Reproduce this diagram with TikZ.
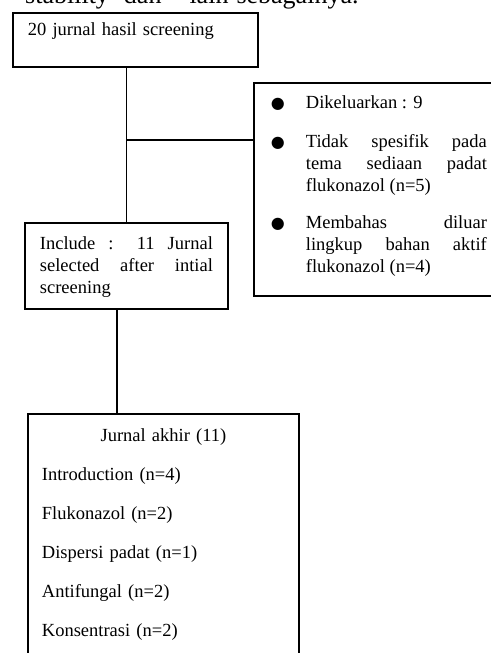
\documentclass[tikz,border=0pt]{standalone}
\usepackage{fontspec}
\setmainfont{Liberation Serif}
\newfontfamily\symfont{DejaVu Sans}
\usepackage{tikz}
\usetikzlibrary{calc}
\tikzset{
  frame/.style={draw=black, line width=1.8pt, inner ysep=0pt, anchor=north west,
    font=\fontsize{18.5}{22}\selectfont},
  link/.style={draw=black, line width=1.8pt, line cap=rect},
  prevtext/.style={anchor=base west, inner sep=0pt, font=\fontsize{26}{26}\selectfont},
}
\newcommand{\dotitem}[1]{\noindent\hangindent=35pt\hangafter=1%
  \makebox[35pt][l]{{\symfont\fontsize{16}{16}\selectfont ●}}#1\par}

\begin{document}
\begin{tikzpicture}[x=1pt, y=-1pt]
  \useasboundingbox (0,0) rectangle (490,653);
  \fill[white] (0,0) rectangle (490,653);

  \node[prevtext] (prev) at (25,4) {stability\hspace{15pt}dan\hspace{28pt}lain\hspace{8pt}sebagainya.};

  \node[frame, inner xsep=15pt, text width=215pt, align=left,
    text height=23pt, text depth=31pt] (screen) at (12,12) {20 jurnal hasil screening};

  \node[frame, inner xsep=17pt, text width=216pt, align=justify,
    text height=26pt, text depth=187pt] (excl) at (253,82)
    {\dotitem{Dikeluarkan : 9}\vspace{17pt}
     \dotitem{Tidak spesifik pada\linebreak tema sediaan padat\linebreak flukonazol (n=5)}\vspace{15pt}
     \dotitem{Membahas diluar\linebreak lingkup bahan aktif\linebreak flukonazol (n=4)}};

  \node[frame, inner xsep=15pt, text width=173pt, align=justify,
    text height=27pt, text depth=59pt] (incl) at (24,222)
    {Include : 11 Jurnal\linebreak selected after intial\linebreak screening};

  \node[frame, inner xsep=14pt, text width=243pt, align=left,
    font=\fontsize{18.5}{39}\selectfont,
    text height=28pt, text depth=260pt] (final) at (27,413)
    {\makebox[243pt][c]{Jurnal akhir (11)}\\
     Introduction (n=4)\\
     Flukonazol (n=2)\\
     Dispersi padat (n=1)\\
     Antifungal (n=2)\\
     Konsentrasi (n=2)};

  \coordinate (split) at (incl.north |- 0,140);
  \coordinate (out) at ([xshift=-9.5pt]incl.south);

  \draw[link] (screen.south -| incl.north) -- (incl.north);
  \draw[link] (split) -- (split -| excl.west);
  \draw[link] (out) -- (out |- final.north);
\end{tikzpicture}
\end{document}
